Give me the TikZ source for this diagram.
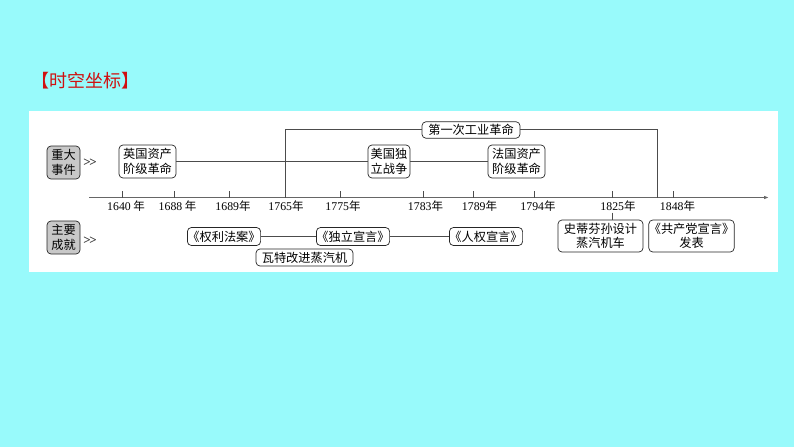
\documentclass[tikz,border=0pt]{standalone}
\usepackage{fontspec}
\setmainfont{Liberation Serif}
\newfontfamily\cjk{Noto Sans CJK SC}
\usetikzlibrary{arrows.meta}
\definecolor{bgcyan}{RGB}{152,250,251}
\definecolor{titlered}{RGB}{208,16,16}
\definecolor{lbgray}{RGB}{200,200,200}
\newcommand{\yrlab}[2]{{\fontsize{11.8}{12}\selectfont #1}#2{\cjk\fontsize{11.5}{12}\selectfont 年}}
\begin{document}
\begin{tikzpicture}[x=1pt,y=-1pt,
  rbox/.style={draw=black!85, line width=0.7pt, rounded corners=4pt, fill=white, inner sep=0pt,
    align=center, font=\cjk\fontsize{12.2}{14.5}\selectfont},
  lbbox/.style={rbox, fill=lbgray},
  conn/.style={draw=black!70, line width=0.7pt},
  axisline/.style={draw=black!60, line width=1.2pt},
  tickline/.style={draw=black!70, line width=0.7pt},
  yrnode/.style={inner sep=0pt, anchor=center},
  chev/.style={inner sep=0pt, text=black!80, font=\bfseries\fontsize{13}{13}\selectfont}
]
\useasboundingbox (0,0) rectangle (794,447);
\fill[bgcyan] (0,0) rectangle (794,447);
\fill[white] (29,111) rectangle (778,272);

% title
\node[inner sep=0pt, text=titlered, font=\cjk\fontsize{18}{20}\selectfont] (title) at (85.5,81) {【时空坐标】};

% left labels
\node[lbbox, minimum width=33pt, minimum height=33pt] (lb1) at (63.5,162.5) {重大\\事件};
\node[lbbox, minimum width=33pt, minimum height=33pt] (lb2) at (63.5,237.5) {主要\\成就};
\node[chev] (ch1) at (90,163) {>\kern-1.5pt>};
\node[chev] (ch2) at (90,241) {>\kern-1.5pt>};

% axis
\coordinate (axs) at (89,197.5);
\coordinate (axe) at (769,197.5);
\draw[axisline, -{Latex[length=5pt,width=3.5pt]}] (axs) -- (axe);

% ticks
\foreach \tx/\nm in {122/t1640,174/t1688,229/t1689,340/t1775,423/t1783,473/t1789,534/t1794,612/t1825,673/t1848}{
  \coordinate (\nm) at (\tx,191);
  \draw[tickline] (\nm) -- (\tx,197.5);
}

% year labels
\node[yrnode] (y1640) at (126,206) {\yrlab{1640}{ }};
\node[yrnode] (y1688) at (177.5,206) {\yrlab{1688}{ }};
\node[yrnode] (y1689) at (233,206) {\yrlab{1689}{}};
\node[yrnode] (y1765) at (286,206) {\yrlab{1765}{}};
\node[yrnode] (y1775) at (343,206) {\yrlab{1775}{}};
\node[yrnode] (y1783) at (425.5,206) {\yrlab{1783}{}};
\node[yrnode] (y1789) at (479.5,206) {\yrlab{1789}{}};
\node[yrnode] (y1794) at (538,206) {\yrlab{1794}{}};
\node[yrnode] (y1825) at (618,206) {\yrlab{1825}{}};
\node[yrnode] (y1848) at (677.5,206) {\yrlab{1848}{}};

% industrial revolution bracket
\node[rbox, minimum width=98pt, minimum height=16.5pt] (ind) at (471,130) {第一次工业革命};
\coordinate (irs) at (285,129);
\coordinate (ire) at (657,129);
\coordinate (irsb) at (285,197.5);
\coordinate (ireb) at (657,197.5);
\draw[conn] (irsb) -- (irs) -- (ind.west |- irs);
\draw[conn] (ind.east |- ire) -- (ire) -- (ireb);

% major events
\node[rbox, minimum width=57pt, minimum height=33pt] (ev1) at (147.5,161.5) {英国资产\\阶级革命};
\node[rbox, minimum width=42pt, minimum height=33pt] (ev2) at (389,161.5) {美国独\\立战争};
\node[rbox, minimum width=57pt, minimum height=33pt] (ev3) at (516.5,161.5) {法国资产\\阶级革命};
\draw[conn] (ev1.east) -- (ev2.west);
\draw[conn] (ev2.east) -- (ev3.west);

% achievements
\node[rbox, minimum width=72pt, minimum height=18pt] (a1) at (224,236.5) {《权利法案》};
\node[rbox, minimum width=72pt, minimum height=18pt] (a2) at (353,236.5) {《独立宣言》};
\node[rbox, minimum width=72pt, minimum height=18pt] (a3) at (486,236.5) {《人权宣言》};
\draw[conn] (a1.east) -- (a2.west);
\draw[conn] (a2.east) -- (a3.west);
\node[rbox, minimum width=97pt, minimum height=17pt] (a4) at (304.5,257.5) {瓦特改进蒸汽机};
\node[rbox, minimum width=85pt, minimum height=32pt] (a5) at (600.5,236) {史蒂芬孙设计\\蒸汽机车};
\node[rbox, minimum width=83pt, minimum height=32pt] (a6) at (691.5,236) {《共产党宣言》\\发表};
\coordinate (c1825) at (612,212.5);
\draw[conn] (c1825) -- (c1825 |- a5.north);
\end{tikzpicture}
\end{document}
